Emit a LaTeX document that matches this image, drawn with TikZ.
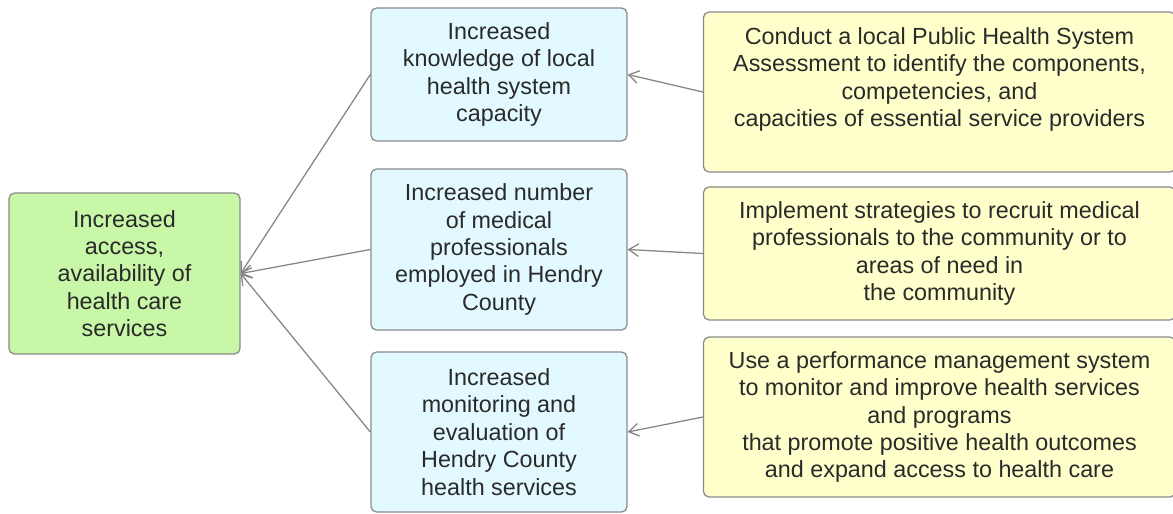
\documentclass[tikz,border=0pt]{standalone}
\usepackage{fontspec}
\setmainfont{Liberation Sans}
\usetikzlibrary{positioning, arrows.meta}

\definecolor{goalfill}{HTML}{C8F7A8}
\definecolor{outfill}{HTML}{E2FAFF}
\definecolor{actfill}{HTML}{FFFFCC}
\definecolor{edgegray}{HTML}{8A8A8A}
\definecolor{linkgray}{HTML}{858585}
\definecolor{txtgray}{HTML}{2A2A2A}

\tikzset{
	box/.style={draw=edgegray, line width=0.9pt, rounded corners=4pt, align=center, inner sep=0pt,
		text=txtgray, font=\fontsize{16.6}{19.5}\selectfont},
	goal box/.style={box, fill=goalfill, minimum width=5.775cm, minimum height=4.025cm},
	out box/.style={box, fill=outfill, minimum width=6.4cm},
	act box/.style={box, fill=actfill, minimum width=11.8cm},
	link/.style={draw=linkgray, line width=0.9pt, -{Straight Barb[length=7pt, width=9pt]}}
}

\begin{document}
\begin{tikzpicture}[x=0.025cm, y=-0.025cm]
			\useasboundingbox (0,0) rectangle (1173,514);
			\path (124.5,273.5) node[goal box] (goal) {Increased\\ access,\\ availability of\\ health care\\ services};
			\path (499,74.5) node[out box, minimum height=3.325cm] (out 1) {Increased\\ knowledge of local\\ health system\\ capacity};
			\path (499,249.5) node[out box, minimum height=4.025cm] (out 2) {Increased number\\ of medical\\ professionals\\ employed in Hendry\\ County};
			\path (499,432) node[out box, minimum height=4cm] (out 3) {Increased\\ monitoring and\\ evaluation of\\ Hendry County\\ health services};
			\path (939.5,92) node[act box, minimum height=4cm] (act 1) {Conduct a local Public Health System\\ Assessment to identify the components,\\ competencies, and\\ capacities of essential service providers\\[-4pt] \strut};
			\path (939.5,253.5) node[act box, minimum height=3.325cm] (act 2) {Implement strategies to recruit medical\\ professionals to the community or to\\ areas of need in\\ the community};
			\path (939.5,417) node[act box, minimum height=4cm] (act 3) {Use a performance management system\\ to monitor and improve health services\\ and programs\\ that promote positive health outcomes\\ and expand access to health care};
			\draw[link] (act 1.west) -- (out 1.east);
			\draw[link] (act 2.west) -- (out 2.east);
			\draw[link] (act 3.west) -- (out 3.east);
			\draw[link] (out 1.west) -- (goal.east);
			\draw[link] (out 2.west) -- (goal.east);
			\draw[link] (out 3.west) -- (goal.east);
		\end{tikzpicture}
\end{document}
